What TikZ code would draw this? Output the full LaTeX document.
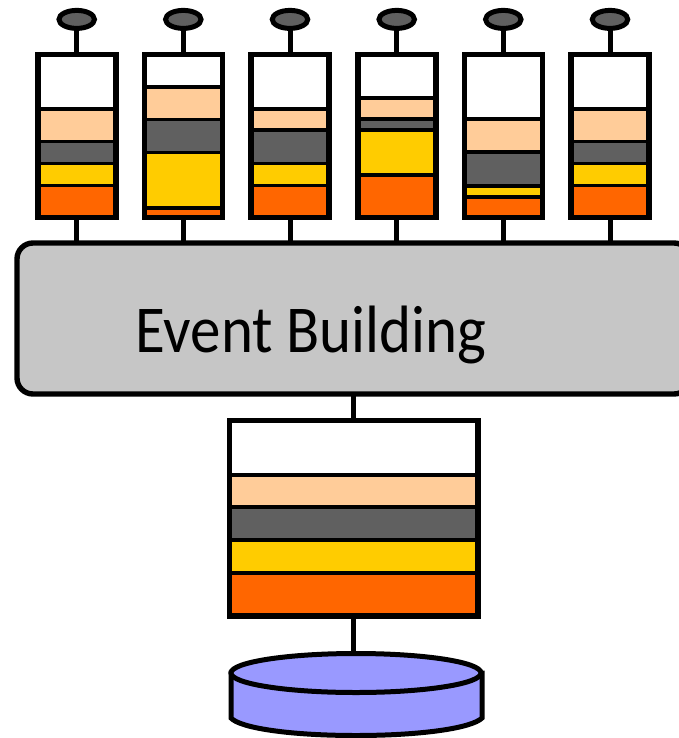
\documentclass[tikz,border=0pt]{standalone}
\usepackage{fontspec}
\setmainfont{Carlito}
\usetikzlibrary{shapes.geometric}
\definecolor{peach}{HTML}{FFCC99}
\definecolor{darkgrey}{HTML}{606060}
\definecolor{amber}{HTML}{FFCC00}
\definecolor{flame}{HTML}{FF6600}
\definecolor{eventgrey}{HTML}{C6C6C6}
\definecolor{diskblue}{HTML}{9999FF}
\tikzset{
  frameA/.style={draw=black,line width=5.6pt,rectangle,inner sep=0pt,outer sep=0pt,minimum width=78pt,minimum height=162.8pt},
  frameB/.style={draw=black,line width=5.6pt,rectangle,inner sep=0pt,outer sep=0pt,minimum width=248.6pt,minimum height=195.5pt},
  knob/.style={draw=black,fill=darkgrey,line width=5pt,ellipse,inner sep=0pt,outer sep=0pt,minimum width=35.5pt,minimum height=18pt},
  layerline/.style={draw=black,line width=3.8pt},
  wire/.style={draw=black,line width=5pt},
  eventbox/.style={draw=black,fill=eventgrey,line width=5.4pt,rectangle,rounded corners=16pt,inner sep=0pt,outer sep=0pt,minimum width=673pt,minimum height=151pt},
  disktop/.style={draw=black,fill=diskblue,line width=5pt,ellipse,inner sep=0pt,outer sep=0pt,minimum width=250pt,minimum height=39pt}
}
\begin{document}
\begin{tikzpicture}[x=1pt,y=-1pt]
\useasboundingbox (0,0) rectangle (679,738);
\clip (0,0) rectangle (679,738);
% event building
\node[eventbox] (ev) at (353.5,318.5) {};
\node[font=\fontsize{67}{67}\selectfont,anchor=base,xscale=0.91] (evlabel) at (311,352) {Event Building};
% small buffers: centre, top of peach, peach/grey, grey/yellow, yellow/orange
\foreach \n/\cx/\a/\b/\c/\d in {
  1/76.7/109/141.5/163.5/185.5,
  2/183.3/86.7/119.5/152.5/208,
  3/290/109/130/163.5/185.5,
  4/396.7/97.7/119.3/130/174.7,
  5/503.3/119.3/152.3/185.7/196.7,
  6/610/109/141.5/163.5/185.5}{
  \path[layerline,fill=peach] (\cx-39,\a) rectangle (\cx+39,\b);
  \path[layerline,fill=darkgrey] (\cx-39,\b) rectangle (\cx+39,\c);
  \path[layerline,fill=amber] (\cx-39,\c) rectangle (\cx+39,\d);
  \path[layerline,fill=flame] (\cx-39,\d) rectangle (\cx+39,217.5);
  \node[frameA] (b\n) at (\cx,136.1) {};
  \node[knob] (k\n) at (\cx,19.4) {};
  \draw[wire] (k\n.south) -- (b\n.north);
  \draw[wire] (b\n.south) -- (b\n.south |- ev.north);
}
% large buffer
\path[layerline,fill=peach] (229.4,474.7) rectangle (478,506.7);
\path[layerline,fill=darkgrey] (229.4,506.7) rectangle (478,540.3);
\path[layerline,fill=amber] (229.4,540.3) rectangle (478,573.3);
\path[layerline,fill=flame] (229.4,573.3) rectangle (478,616);
\node[frameB] (big) at (353.7,518.25) {};
\draw[wire] (big.north |- ev.south) -- (big.north);
% disk
\draw[line width=5pt,fill=diskblue] (231,673) -- (231,718) .. controls (240,728) and (290,735.5) .. (356,735.5) .. controls (422,735.5) and (472,728) .. (482,718) -- (482,673) -- cycle;
\node[disktop] (disk) at (356,673) {};
\draw[wire] (big.south) -- (big.south |- disk.north);
\end{tikzpicture}
\end{document}
